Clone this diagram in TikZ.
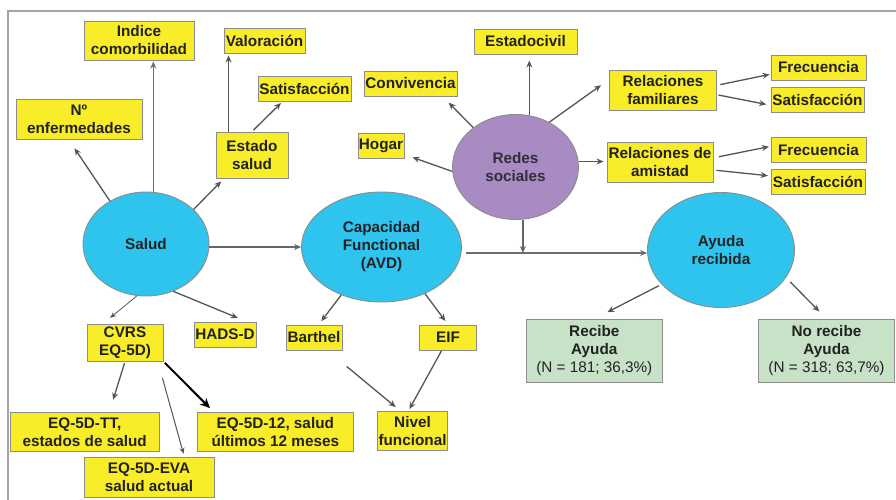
\documentclass[tikz,border=0pt]{standalone}
\usepackage{fontspec}
\setmainfont{Liberation Sans}
\usetikzlibrary{shapes.geometric,arrows.meta,calc}
\definecolor{yel}{RGB}{249,237,42}
\definecolor{cyanell}{RGB}{46,196,238}
\definecolor{purp}{RGB}{167,139,194}
\definecolor{grn}{RGB}{199,226,198}
\definecolor{boxgray}{RGB}{140,140,140}
\definecolor{linegray}{RGB}{85,85,85}
\definecolor{framegray}{RGB}{165,165,165}
\definecolor{txt}{RGB}{34,34,34}
\newcommand{\lab}{\fontsize{15.3}{18}\selectfont\bfseries}
\tikzset{
  ybox/.style={draw=boxgray, fill=yel, line width=0.9pt, inner sep=0pt, align=center, font=\lab, text=txt},
  gbox/.style={draw=boxgray, fill=grn, line width=0.9pt, inner sep=0pt, align=center, font=\lab, text=txt},
  ell/.style={ellipse, draw=boxgray, fill=cyanell, line width=0.9pt, inner sep=0pt, align=center, font=\lab, text=txt},
  arr/.style={draw=linegray, line width=1.3pt, -{Stealth[length=7pt,width=6pt]}},
  thinarr/.style={draw=linegray, line width=0.8pt, -{Stealth[length=6pt,width=5pt]}},
  bigarr/.style={draw=black, line width=2pt, -{Stealth[length=10pt,width=9pt]}},
}
\begin{document}
\begin{tikzpicture}[x=1pt,y=-1pt]
\useasboundingbox (0,0) rectangle (896,500);
\fill[white] (0,0) rectangle (896,500);
% frame
\draw[framegray, line width=1.6pt] (8,500) -- (8,11) -- (896,11);

% ellipses
\node[ell, minimum width=126, minimum height=104] (salud) at (146,244) {Salud};
\node[ell, minimum width=160, minimum height=110] (cap) at (381.5,247) {Capacidad\\Functional\\(AVD)};
\node[ell, fill=purp, text={rgb,255:red,50;green,45;blue,60}, minimum width=126, minimum height=105] (redes) at (515.5,167) {Redes\\sociales};
\node[ell, minimum width=147, minimum height=115] (ayuda) at (721,250) {Ayuda\\recibida};

% yellow boxes
\node[ybox, minimum width=110, minimum height=39] (indice) at (139,40.5) {Indice\\comorbilidad};
\node[ybox, minimum width=81, minimum height=25] (valor) at (264.5,40.5) {Valoración};
\node[ybox, minimum width=93, minimum height=25] (satis0) at (304.5,89) {Satisfacción};
\node[ybox, minimum width=126, minimum height=40] (nenf) at (79,119) {Nº\\enfermedades};
\node[ybox, minimum width=72, minimum height=46] (estado) at (252,155) {Estado\\salud};
\node[ybox, minimum width=93, minimum height=25] (conviv) at (410.5,83.5) {Convivencia};
\node[ybox, minimum width=46, minimum height=25] (hogar) at (381,146) {Hogar};
\node[ybox, minimum width=103, minimum height=25] (estciv) at (525.5,41.5) {Estadocivil};
\node[ybox, minimum width=107, minimum height=40] (relfam) at (663,90) {Relaciones\\familiares};
\node[ybox, minimum width=106, minimum height=40] (relam) at (660,162.5) {Relaciones de\\amistad};
\node[ybox, minimum width=95, minimum height=25] (frec1) at (818.5,67.5) {Frecuencia};
\node[ybox, minimum width=93, minimum height=25] (sat1) at (817.5,99.5) {Satisfacción};
\node[ybox, minimum width=95, minimum height=25] (frec2) at (818.5,149.7) {Frecuencia};
\node[ybox, minimum width=94, minimum height=25] (sat2) at (818,181.8) {Satisfacción};
\node[ybox, minimum width=76, minimum height=37] (cvrs) at (125,342.5) {CVRS\\EQ-5D)};
\node[ybox, minimum width=62, minimum height=25] (hads) at (225,334.5) {HADS-D};
\node[ybox, minimum width=56, minimum height=25] (barthel) at (314,337.5) {Barthel};
\node[ybox, minimum width=57, minimum height=25] (eif) at (448,337.5) {EIF};
\node[ybox, minimum width=149, minimum height=39] (eqtt) at (84.7,432) {EQ-5D-TT,\\estados de salud};
\node[ybox, minimum width=130, minimum height=40] (eqeva) at (149,477.5) {EQ-5D-EVA\\salud actual};
\node[ybox, minimum width=156, minimum height=39] (eq12) at (275.3,432) {EQ-5D-12, salud\\últimos 12 meses};
\node[ybox, minimum width=70, minimum height=39] (nivel) at (412.5,431) {Nivel\\funcional};

% green boxes
\node[gbox, minimum width=136, minimum height=63] (recibe) at (594.3,350.8) {Recibe\\Ayuda\\{\mdseries (N = 181; 36,3\%)}};
\node[gbox, minimum width=136, minimum height=63] (norecibe) at (826.5,350.8) {No recibe\\Ayuda\\{\mdseries (N = 318; 63,7\%)}};

% connectors - Salud
\draw[arr, shorten >=10.7pt] (salud.130) -- (nenf.243);
\draw[arr, draw=linegray!85, shorten >=1pt] (salud.82) -- (salud.82 |- indice.south);
\draw[arr, shorten >=4pt] (salud.36) -- (estado.220);
\draw[arr, shorten >=2pt] (estado.135) -- (estado.135 |- valor.south);
\draw[arr, shorten <=2pt, shorten >=1.5pt] (estado.north) -- (satis0.210);
\draw[arr, draw=linegray!90] (salud.east |- cap.west) -- (cap.west);
\draw[thinarr, shorten >=9pt] (salud.-100) -- (cvrs.139);
\draw[arr, shorten >=9.5pt] (salud.-60) -- (hads.31);

% CVRS
\draw[arr, shorten <=1.7pt, shorten >=12.9pt] (cvrs.south) -- (eqtt.39);
\draw[thinarr, line width=1pt, shorten <=17pt, shorten >=3.4pt] (cvrs.-30) -- (eqeva.30);
\draw[bigarr, shorten <=2pt, shorten >=5.5pt] (cvrs.south east) -- (eq12.162);

% Capacidad
\coordinate (hl) at ($(cap.east)+(4.5,6)$);
\draw[arr, draw=linegray!85] (hl) -- (hl -| ayuda.west);
\draw[arr, shorten >=4.2pt] (cap.-130) -- (barthel.70);
\draw[arr, shorten >=4.4pt] (cap.-47) -- (eif.north);
\draw[arr, shorten <=25pt, shorten >=6.3pt] (barthel.-44) -- (nivel.121);
\draw[arr, shorten >=2.3pt] (eif.-116) -- (nivel.102);

% Redes
\draw[arr, draw=linegray!90] (redes.-82) -- (redes.-82 |- hl);
\draw[arr, shorten >=8.5pt] (redes.184) -- (hogar.-20);
\draw[arr, shorten >=8.7pt] (redes.137) -- (conviv.-22);
\draw[arr, shorten >=6pt] (redes.75) -- (redes.75 |- estciv.south);
\draw[arr, shorten >=9.8pt] (redes.53) -- (relfam.169);
\draw[arr, shorten >=3pt] (redes.5) -- (redes.5 -| relam.west);
\draw[arr, shorten <=3.4pt, shorten >=1pt] (relfam.5) -- (frec1.188);
\draw[arr, shorten <=1.6pt, shorten >=4.4pt] (relfam.-5) -- (sat1.187);
\draw[arr, shorten <=5.4pt, shorten >=1.7pt] (relam.5) -- (frec2.176);
\draw[arr, shorten <=3pt, shorten >=2.7pt] (relam.-8) -- (sat2.173);

% Ayuda
\draw[arr, shorten <=3pt, shorten >=14.7pt] (ayuda.-150) -- (recibe.north);
\draw[arr, shorten <=6pt, shorten >=10.2pt] (ayuda.-23) -- (norecibe.north);
\end{tikzpicture}
\end{document}
